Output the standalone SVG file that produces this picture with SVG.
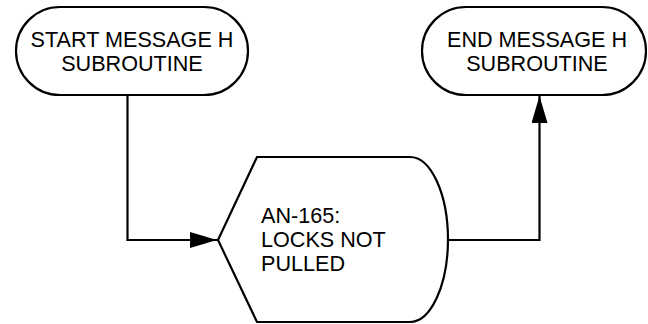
<svg xmlns="http://www.w3.org/2000/svg" width="648" height="324" viewBox="0 0 648 324">
<style>
.shape{fill:#fff;stroke:#000;stroke-width:2.2}
.line{fill:none;stroke:#000;stroke-width:2.2}
text{font-family:"Liberation Sans",Arial,sans-serif;font-size:21.6px;fill:#000}
</style>
<defs>
<marker id="arr" markerUnits="userSpaceOnUse" markerWidth="27" markerHeight="16" refX="27" refY="8" orient="auto">
<path d="M0,0 L27,8 L0,16 Z" fill="#000"/>
</marker>
</defs>
<rect width="648" height="324" fill="#fff"/>
<g id="connectors">
<path class="line" d="M127.5,95 V240 H217" marker-end="url(#arr)"/>
<path class="line" d="M448,240 H539.5 V96" marker-end="url(#arr)"/>
</g>
<g id="start">
<rect class="shape" x="16" y="7" width="232" height="88" rx="44" ry="44"/>
<text x="132" y="47" text-anchor="middle">START MESSAGE H</text>
<text x="132" y="71" text-anchor="middle">SUBROUTINE</text>
</g>
<g id="end">
<rect class="shape" x="422" y="7" width="224" height="88" rx="44" ry="44"/>
<text x="537" y="47" text-anchor="middle">END MESSAGE H</text>
<text x="537" y="71" text-anchor="middle">SUBROUTINE</text>
</g>
<g id="display">
<path class="shape" d="M218,240 L257,157 L410,157 A38,83 0 0 1 448,240 A38,83 0 0 1 410,322 L257,322 Z"/>
<text x="261" y="223">AN-165:</text>
<text x="261" y="247">LOCKS NOT</text>
<text x="261" y="271">PULLED</text>
</g>
</svg>
